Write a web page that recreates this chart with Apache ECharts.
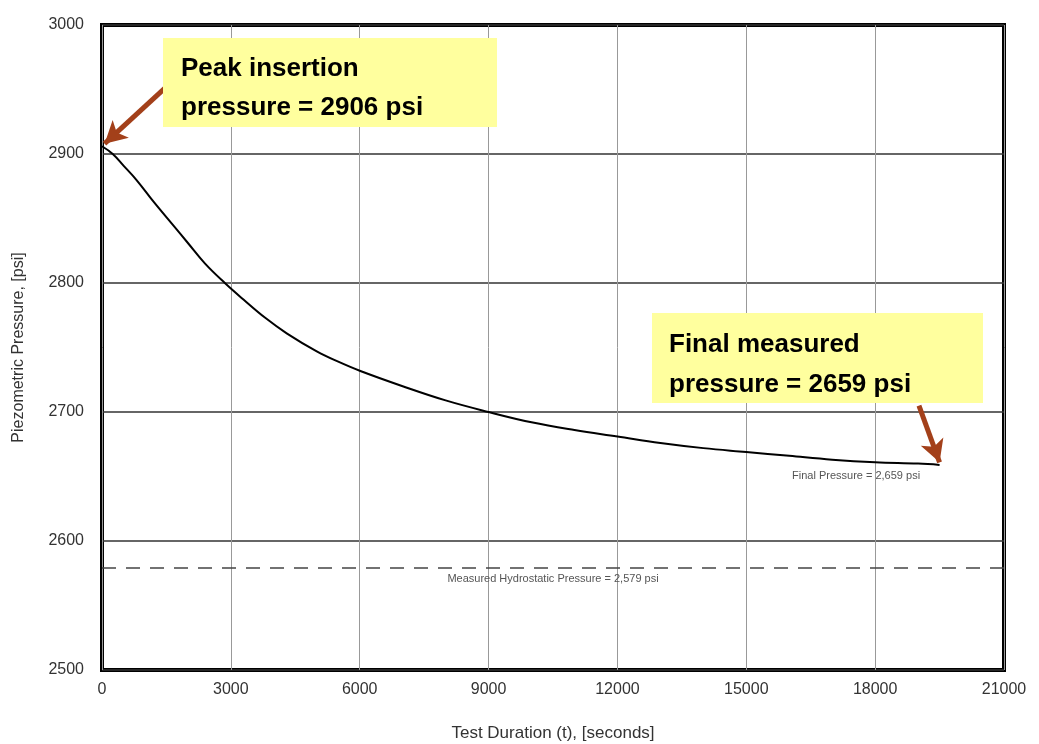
<!DOCTYPE html>
<html>
<head>
<meta charset="utf-8">
<script src="https://cdn.jsdelivr.net/npm/echarts@6/dist/echarts.min.js"></script>
<style>
  html, body { margin: 0; padding: 0; background: #fff; }
  #chart { width: 1039px; height: 744px; }
</style>
</head>
<body>
<div id="chart"></div>
<script>
// test duration (s) and piezometric pressure (psi)
var times = [0, 250, 500, 800, 1200, 1650, 2000, 2400, 2860, 3300, 3800, 4300, 5000, 5500, 6000,
  7000, 8000, 9000, 10000, 11000, 12000, 13000, 14000, 15000, 16000, 17000, 18000, 19000, 19500];
var pressures = [2906, 2900, 2891, 2880, 2863, 2845, 2831, 2815, 2800, 2787, 2773, 2761, 2747, 2739, 2732,
  2720, 2709, 2700, 2692, 2686, 2681, 2676, 2672, 2669, 2666, 2663, 2661, 2660, 2659];
var hydrostatic = 2579;
var xTicks = [0, 3000, 6000, 9000, 12000, 15000, 18000, 21000];
var yTicks = [2500, 2600, 2700, 2800, 2900, 3000];

var curve = times.map(function (t, i) { return [t, pressures[i]]; });

var chart = echarts.init(document.getElementById('chart'));
var font = 'Liberation Sans, Arial, sans-serif';
var brown = '#a3401a';

chart.setOption({
  animation: false,
  grid: {
    left: 102, right: 35, top: 25, bottom: 74,
    outerBoundsMode: 'none', containLabel: false,
    show: true, borderColor: '#000', borderWidth: 4, backgroundColor: '#fff'
  },
  xAxis: {
    type: 'value', min: xTicks[0], max: xTicks[xTicks.length - 1], interval: 3000,
    name: 'Test Duration (t), [seconds]', nameLocation: 'middle', nameGap: 55,
    nameTextStyle: { fontFamily: font, fontSize: 17, color: '#333' },
    axisLine: { show: false }, axisTick: { show: false },
    axisLabel: { fontFamily: font, fontSize: 16, color: '#333', margin: 12, formatter: function (v) { return String(v); } },
    splitLine: { lineStyle: { color: '#999', width: 1 } }
  },
  yAxis: {
    type: 'value', min: yTicks[0], max: yTicks[yTicks.length - 1], interval: 100,
    name: 'Piezometric Pressure, [psi]', nameLocation: 'middle', nameGap: 75,
    nameTextStyle: { fontFamily: font, fontSize: 16, color: '#333' },
    axisLine: { show: false }, axisTick: { show: false },
    axisLabel: { fontFamily: font, fontSize: 16, color: '#333', margin: 18, formatter: function (v) { return String(v); } },
    splitLine: { lineStyle: { color: '#333', width: 1.5 } }
  },
  series: [
    {
      type: 'line',
      data: curve,
      smooth: 0.4,
      showSymbol: false,
      lineStyle: { color: '#000', width: 2 },
      z: 3,
      markLine: {
        silent: true,
        symbol: ['none', 'none'],
        lineStyle: { color: '#444', type: [14, 10], width: 1.5 },
        label: {
          position: 'insideMiddleBottom', distance: 5,
          formatter: 'Measured Hydrostatic Pressure = 2,579 psi',
          fontFamily: font, fontSize: 11, color: '#555'
        },
        data: [[{ coord: [0, hydrostatic] }, { coord: [21000, hydrostatic] }]]
      }
    },
    {
      type: 'line',
      data: [],
      markLine: {
        silent: true,
        symbol: ['none', 'arrow'],
        symbolSize: [18, 22],
        lineStyle: { color: brown, width: 5, type: 'solid' },
        label: { show: false },
        data: [
          [{ coord: [1465, 2951] }, { coord: [60, 2908] }],
          [{ coord: [19020, 2705] }, { coord: [19500, 2661] }]
        ]
      }
    }
  ],
  graphic: [
    { type: 'rect', left: 163, top: 38, shape: { width: 334, height: 89 }, style: { fill: '#ffff9e' }, z: 10 },
    { type: 'text', left: 181, top: 49, style: { text: 'Peak insertion\npressure = 2906 psi', font: 'bold 26px ' + font, fill: '#000', lineHeight: 39 }, z: 11 },
    { type: 'rect', left: 652, top: 313, shape: { width: 331, height: 90 }, style: { fill: '#ffff9e' }, z: 10 },
    { type: 'text', left: 669, top: 325, style: { text: 'Final measured\npressure = 2659 psi', font: 'bold 26px ' + font, fill: '#000', lineHeight: 40 }, z: 11 },
    { type: 'text', left: 792, top: 470, style: { text: 'Final Pressure = 2,659 psi', font: '11px ' + font, fill: '#555' }, z: 11 }
  ]
});
</script>
</body>
</html>
